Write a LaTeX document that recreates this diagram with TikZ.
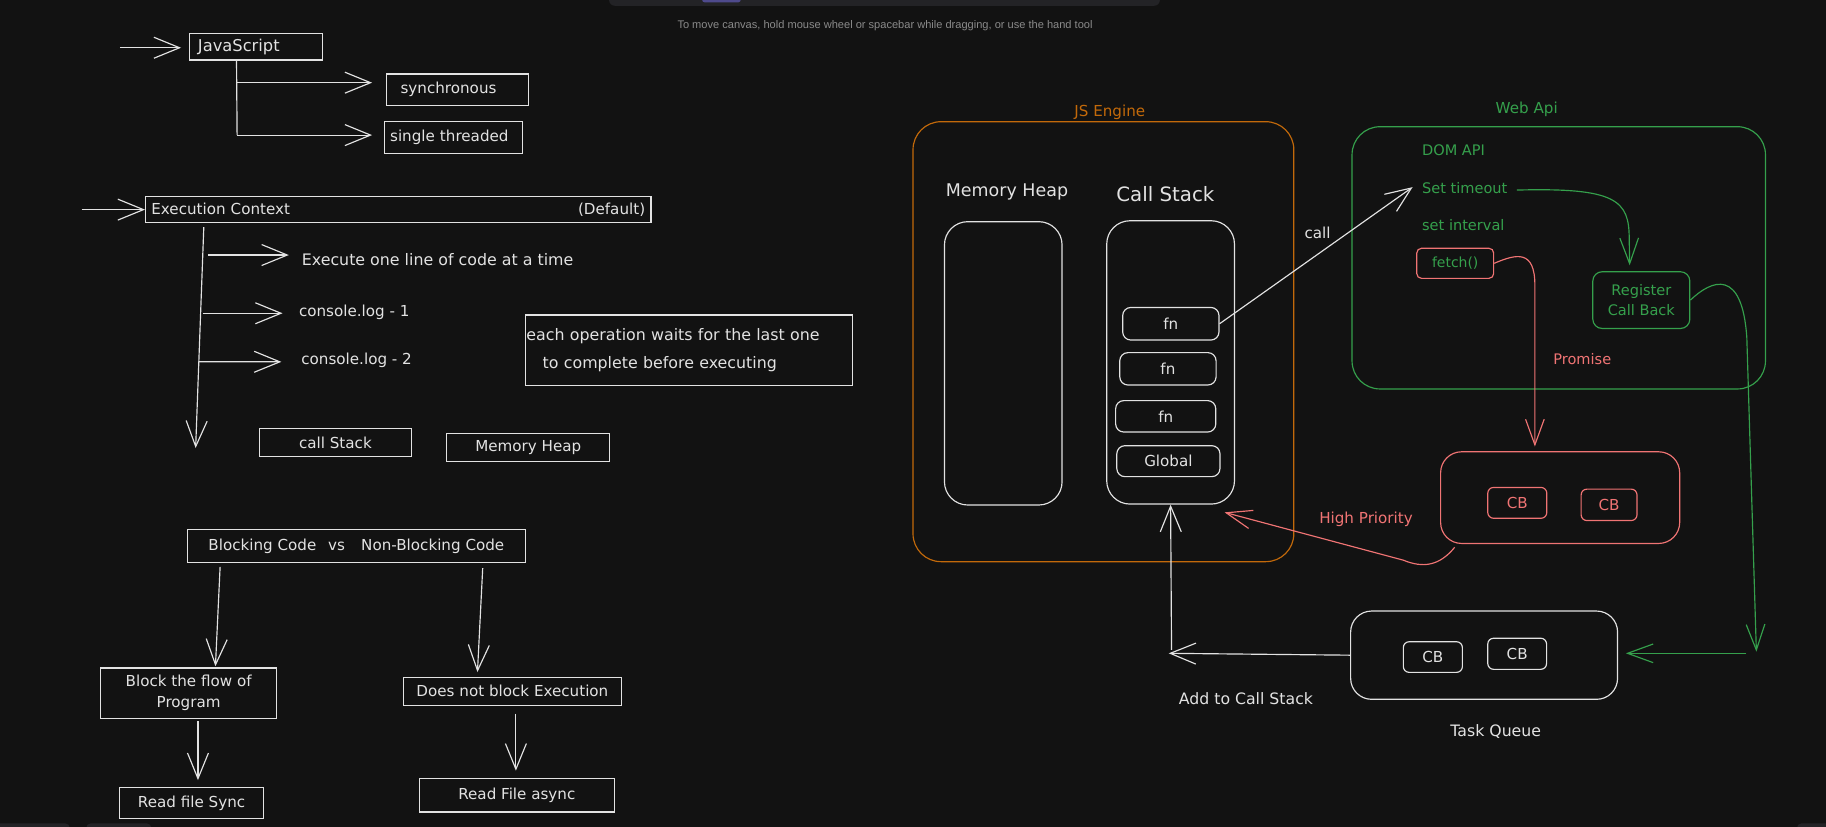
\documentclass[tikz,border=0pt]{standalone}
\usepackage{fontspec}
\setmainfont{DejaVu Sans}
\newfontfamily\hintfont{Liberation Sans}
\usetikzlibrary{arrows.meta,calc}
\definecolor{bgc}{HTML}{121212}
\definecolor{fgc}{HTML}{E2E2E2}
\definecolor{orc}{HTML}{C2690A}
\definecolor{grc}{HTML}{35A04C}
\definecolor{rdc}{HTML}{F07474}
\definecolor{tbc}{HTML}{232326}
\definecolor{hintc}{HTML}{8A8A8A}
\definecolor{purc}{HTML}{4E4A8C}
\tikzset{
  fnt/.style={font=\fontsize{13}{15}\selectfont},
  sbox/.style={draw=fgc, line width=1pt, inner sep=0pt, text=fgc, fnt},
  rbox/.style={sbox, rounded corners=7pt},
  bigr/.style={draw=fgc, line width=1pt, rounded corners=20pt, inner sep=0pt},
  lbl/.style={text=fgc, inner sep=0pt, fnt},
  conn/.style={draw=fgc, line width=1pt},
  arr/.style={conn, -{Straight Barb[length=22pt,width=18pt,line width=1pt]}},
  garr/.style={draw=grc, line width=1pt, -{Straight Barb[length=22pt,width=16pt,line width=1pt]}},
  rarr/.style={draw=rdc, line width=1pt, -{Straight Barb[length=22pt,width=16pt,line width=1pt]}},
}
\begin{document}
\begin{tikzpicture}[x=1pt,y=-1pt]
\fill[bgc] (0,0) rectangle (1568,710);
\useasboundingbox (0,0) rectangle (1568,710);
% screen chrome
\fill[tbc, rounded corners=5pt] (523,-10) rectangle (996,5);
\fill[purc, rounded corners=2pt] (603,-5) rectangle (636,2);
\node[text=hintc, inner sep=0pt, font=\hintfont\fontsize{9.5}{11}\selectfont] (hint) at (760,22) {To move canvas, hold mouse wheel or spacebar while dragging, or use the hand tool};
\fill[tbc, rounded corners=4pt] (-5,707) rectangle (60,720);
\fill[tbc, rounded corners=4pt] (74,707) rectangle (130,720);
\fill[tbc, rounded corners=4pt] (1543,707) rectangle (1580,720);

% ---------- left: JavaScript ----------
\node[sbox, minimum width=114pt, minimum height=23pt, text width=100pt, align=left, font=\fontsize{14}{16}\selectfont] (js) at (220,40) {JavaScript};
\node[sbox, minimum width=122pt, minimum height=27pt, text width=98pt, align=left] (sy) at (393,77) {synchronous};
\node[sbox, minimum width=119pt, minimum height=27pt, text width=109pt, align=left] (st) at (389.5,118) {single threaded};
\coordinate (jsin) at (103,41);
\draw[arr] (jsin) -- ($(js.west)+(-7,1)$);
\coordinate (jt1) at ($(js.south west)+(40.6,0)$);
\coordinate (jt2) at (203.6,116);
\coordinate (jt3) at (203.6,71);
\draw[conn] (jt1) -- (jt2);
\draw[arr] (jt3) -- ($(sy.west)+(-12,-6)$);
\draw[arr] (jt2) -- ($(st.west)+(-10,-2)$);

% ---------- Execution Context ----------
\node[sbox, minimum width=434pt, minimum height=22pt, text width=424pt, align=left] (ec) at (342,180) {Execution Context\hfill(Default)};
\coordinate (ecin) at (70,180);
\draw[arr] (ecin) -- (ec.west);
\coordinate (et1) at (175,195);
\coordinate (et2) at (168,384.7);
\draw[arr] (et1) -- (et2);
\node[lbl, anchor=west, font=\fontsize{13.6}{15}\selectfont] (ex) at (259,223) {Execute one line of code at a time};
\node[lbl, anchor=west] (cl1) at (256.6,268) {console.log - 1};
\node[lbl, anchor=west] (cl2) at (258.6,309.7) {console.log - 2};
\coordinate (eb1) at (178.6,219);
\coordinate (eb2) at (174,269);
\coordinate (eb3) at (170.5,310.6);
\draw[arr] (eb1) -- ($(ex.west)+(-11,-4)$);
\draw[arr] (eb2) -- ($(cl1.west)+(-14,1)$);
\draw[arr] (eb3) -- ($(cl2.west)+(-17,1)$);
\node[sbox, minimum width=281pt, minimum height=60.5pt, text width=279pt, align=left, font=\fontsize{13.6}{15}\selectfont] (note) at (591.5,300.75)
  {each operation waits for the last one\\[9pt]\hspace*{14pt}to complete before executing};
\node[sbox, minimum width=131pt, minimum height=23.4pt] (cs) at (288,380) {call Stack};
\node[sbox, minimum width=140pt, minimum height=24pt] (mh) at (453.6,384) {Memory Heap};

% ---------- Blocking ----------
\node[sbox, minimum width=290pt, minimum height=28.7pt] (bc) at (306,469) {Blocking Code\hspace{10pt}vs\hspace{14pt}Non-Blocking Code};
\node[sbox, minimum width=151.5pt, minimum height=43.4pt, align=center] (bf) at (162,595.3) {Block the flow of\\[3pt]Program};
\node[sbox, minimum width=124pt, minimum height=27pt] (rs) at (164.5,689.5) {Read file Sync};
\node[sbox, minimum width=187.6pt, minimum height=24pt] (dn) at (440,593.6) {Does not block Execution};
\node[sbox, minimum width=167.6pt, minimum height=28.6pt] (ra) at (443.8,683) {Read File async};
\draw[arr] ($(bc.south west)+(28.5,3)$) -- ($(bf.north)+(23,-1)$);
\draw[arr] ($(bc.south west)+(254,4)$) -- ($(dn.north)+(-30,-4)$);
\draw[arr] ($(bf.south)+(8,2)$) -- ($(rs.north)+(5.5,-5.6)$);
\draw[arr] ($(dn.south)+(3,6.6)$) -- ($(ra.north)+(-0.8,-6.4)$);

% ---------- JS Engine ----------
\node[draw=orc, line width=1pt, rounded corners=24pt, minimum width=327pt, minimum height=377.8pt, inner sep=0pt] (jse) at (947.5,293.4) {};
\node[text=orc, inner sep=0pt, fnt] (jsel) at (953,96.5) {JS Engine};
\node[lbl, font=\fontsize{15}{18}\selectfont] (mhh) at (864.7,164.6) {Memory Heap};
\node[lbl, font=\fontsize{17}{19}\selectfont] (csh) at (1000.7,166.6) {Call Stack};
\node[bigr, minimum width=101pt, minimum height=243.3pt] (mhr) at (861.5,312) {};
\node[bigr, minimum width=109.7pt, minimum height=243.3pt] (csr) at (1005.2,311.2) {};
\node[rbox, minimum width=82.7pt, minimum height=28pt] (fn1) at (1005.4,278) {fn};
\node[rbox, minimum width=82.7pt, minimum height=27.8pt] (fn2) at (1002.9,316.7) {fn};
\node[rbox, minimum width=86pt, minimum height=27pt] (fn3) at (1001,357.5) {fn};
\node[rbox, minimum width=88.6pt, minimum height=26.6pt] (gl) at (1003.3,396) {Global};

% ---------- Web Api ----------
\node[draw=grc, line width=1pt, rounded corners=24pt, minimum width=355pt, minimum height=225.2pt, inner sep=0pt] (wa) at (1338.5,221.4) {};
\node[text=grc, inner sep=0pt, fnt] (wal) at (1311,93.9) {Web Api};
\node[text=grc, inner sep=0pt, anchor=west, font=\fontsize{12.5}{14}\selectfont] (dom) at (1221,129.4) {DOM API};
\node[text=grc, inner sep=0pt, anchor=west, font=\fontsize{12.5}{14}\selectfont] (sto) at (1221,161.7) {Set timeout};
\node[text=grc, inner sep=0pt, anchor=west, font=\fontsize{12.5}{14}\selectfont] (sin) at (1221,193.2) {set interval};
\node[draw=rdc, line width=1pt, rounded corners=4pt, text=grc, inner sep=0pt, minimum width=66pt, minimum height=25.8pt, font=\fontsize{12}{14}\selectfont] (fe) at (1249.6,226.1) {fetch()};
\node[draw=grc, line width=1pt, rounded corners=8pt, text=grc, inner sep=0pt, minimum width=83.3pt, minimum height=48.7pt, align=center, font=\fontsize{12.5}{15}\selectfont] (rcb) at (1409.4,257.7) {Register\\[2pt]Call Back};

\node[lbl] (calll) at (1131.4,199.8) {call};
\draw[arr] (fn1.east) -- ($(sto.west)+(-8,-1)$);
\coordinate (stoout) at (1302.6,163.2);
\draw[garr] (stoout) .. controls (1388,161) and (1399,172) .. (1399,205) -- ($(rcb.north)+(-10,-5)$);

% ---------- microtask queue ----------
\node[draw=rdc, line width=1pt, rounded corners=18pt, minimum width=205.3pt, minimum height=78.7pt, inner sep=0pt] (mq) at (1339.7,427.3) {};
\node[draw=rdc, line width=1pt, rounded corners=5pt, text=rdc, inner sep=0pt, minimum width=50.7pt, minimum height=26.5pt, fnt] (cb1) at (1302.9,431.8) {CB};
\node[draw=rdc, line width=1pt, rounded corners=5pt, text=rdc, inner sep=0pt, minimum width=48pt, minimum height=27pt, fnt] (cb2) at (1381.7,433.5) {CB};
\node[text=rdc, inner sep=0pt, font=\fontsize{12.5}{14}\selectfont] (prom) at (1358.7,308.5) {Promise};
\draw[rarr] (fe.east) .. controls (1302,218) and (1318,214) .. (1318,245) -- ($(mq.north)+(-21.7,-4)$);
\node[text=rdc, inner sep=0pt, font=\fontsize{13}{14}\selectfont] (hp) at (1173,446) {High Priority};
\draw[rarr] ($(mq.south west)+(12.6,2.8)$) .. controls (1236,486) and (1222,488) .. (1205,481) -- ($(csr.south east)+(-9,6.6)$);

% ---------- task queue ----------
\node[bigr, rounded corners=18pt, minimum width=229.2pt, minimum height=75.8pt] (tq) at (1274.4,562.6) {};
\node[rbox, rounded corners=5pt, minimum width=50.7pt, minimum height=26.3pt] (cb3) at (1230.4,564.2) {CB};
\node[rbox, rounded corners=5pt, minimum width=50.5pt, minimum height=26.7pt] (cb4) at (1302.8,561.4) {CB};
\node[lbl, font=\fontsize{13.5}{16}\selectfont] (tql) at (1284.4,628.3) {Task Queue};
\node[lbl, font=\fontsize{13.5}{16}\selectfont] (addl) at (1069.9,599.6) {Add to Call Stack};
\coordinate (acs) at (1003.6,561);
\coordinate (acs2) at (1006,558);
\draw[arr] (tq.west) -- (acs);
\draw[arr] (acs2) -- (csr.south);

\coordinate (gdown) at (1508.2,559.6);
\coordinate (gcor) at (1499.6,561);
\draw[garr] (rcb.east) .. controls (1470,240) and (1496,230) .. (1500,290) -- (gdown);
\draw[garr] (gcor) -- ($(tq.east)+(6.6,-1.6)$);
\end{tikzpicture}
\end{document}
